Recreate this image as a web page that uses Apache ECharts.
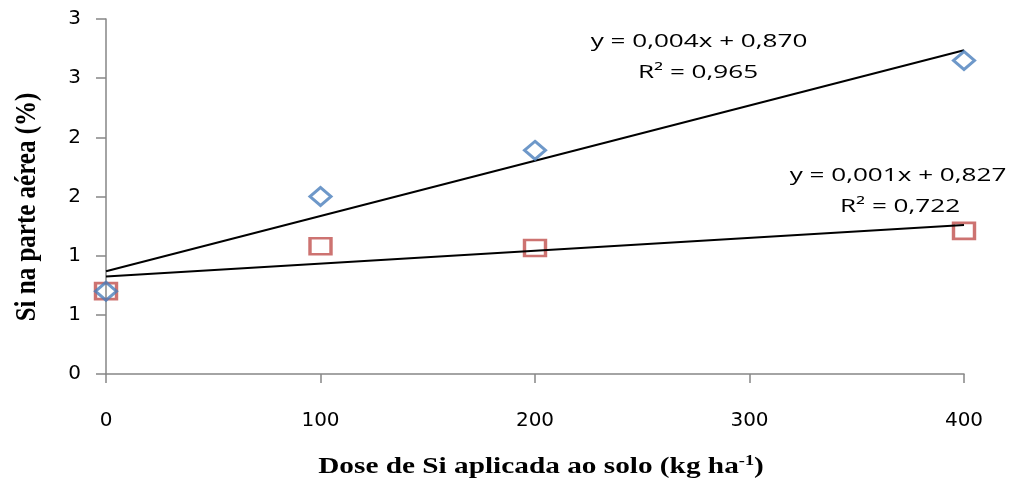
<!DOCTYPE html>
<html>
<head>
<meta charset="utf-8">
<script src="https://cdn.jsdelivr.net/npm/echarts@6/dist/echarts.min.js"></script>
<style>
  html, body { margin: 0; padding: 0; background: #fff; }
  #chart { width: 1011px; height: 486px; }
</style>
</head>
<body>
<div id="chart"></div>
<script>
// Si dose applied to soil (kg/ha)
const doses = [0, 100, 200, 400];
// Si content in shoots (%), two treatments
const siSeriesA = [0.70, 1.50, 1.89, 2.65];
const siSeriesB = [0.70, 1.08, 1.065, 1.21];
// y tick labels as printed (0.5 steps shown with no decimals)
const yTickLabels = ['0', '1', '1', '2', '2', '3', '3'];
const xTickLabels = ['0', '100', '200', '300', '400'];
// trend-line equations
const eqA = ['y = 0,004x + 0,870', 'R² = 0,965'];
const eqB = ['y = 0,001x + 0,827', 'R² = 0,722'];
// axis titles
const xTitle = 'Dose de Si aplicada ao solo (kg ha{sup|-1})';
const yTitle = 'Si na parte aérea (%)';

// least-squares fit through the points, evaluated at both ends of the dose range
function fitLine(xs, ys) {
  const n = xs.length;
  const mx = xs.reduce((a, b) => a + b, 0) / n;
  const my = ys.reduce((a, b) => a + b, 0) / n;
  let sxy = 0, sxx = 0;
  for (let i = 0; i < n; i++) {
    sxy += (xs[i] - mx) * (ys[i] - my);
    sxx += (xs[i] - mx) * (xs[i] - mx);
  }
  const b = sxy / sxx, a = my - b * mx;
  const x0 = Math.min(...xs), x1 = Math.max(...xs);
  return [[x0, a + b * x0], [x1, a + b * x1]];
}

const axisGray = '#868686';
const eqFont = { fontFamily: 'Open Sans', fontSize: 18, fill: '#000', align: 'center', verticalAlign: 'middle' };
const titleFont = { fontFamily: 'Liberation Serif', fontWeight: 'bold', fontSize: 24, fill: '#000', align: 'center', verticalAlign: 'middle' };

function eqText(text, x, y) {
  return { type: 'text', x: x, y: y, scaleX: 1.45, style: Object.assign({ text: text }, eqFont) };
}

const chart = echarts.init(document.getElementById('chart'), null, { renderer: 'canvas' });

chart.setOption({
  backgroundColor: '#fff',
  animation: false,
  grid: { left: 106, right: 47, top: 19, bottom: 112, containLabel: false },
  xAxis: {
    type: 'value', min: 0, max: 400, interval: 100,
    axisLine: { show: true, lineStyle: { color: axisGray, width: 1.5 } },
    axisTick: { show: true, inside: false, length: 9, lineStyle: { color: axisGray, width: 1.5 } },
    splitLine: { show: false },
    axisLabel: {
      margin: 37, color: '#000', fontFamily: 'DejaVu Sans', fontSize: 20,
      formatter: (v) => xTickLabels[Math.round(v / 100)]
    }
  },
  yAxis: {
    type: 'value', min: 0, max: 3, interval: 0.5,
    axisLine: { show: true, lineStyle: { color: axisGray, width: 1.5 } },
    axisTick: { show: true, inside: false, length: 10, lineStyle: { color: axisGray, width: 1.5 } },
    splitLine: { show: false },
    axisLabel: {
      margin: 25, color: '#000', fontFamily: 'DejaVu Sans', fontSize: 20,
      formatter: (v) => yTickLabels[Math.round(v / 0.5)]
    }
  },
  series: [
    {
      type: 'line', data: fitLine(doses, siSeriesA), symbol: 'none',
      lineStyle: { color: '#000', width: 2 }, z: 2
    },
    {
      type: 'line', data: fitLine(doses, siSeriesB), symbol: 'none',
      lineStyle: { color: '#000', width: 2 }, z: 2
    },
    {
      type: 'scatter', data: doses.map((d, i) => [d, siSeriesB[i]]),
      symbol: 'rect', symbolSize: [21, 16],
      itemStyle: { color: 'rgba(0,0,0,0)', borderColor: '#C0504D', borderWidth: 3 }, z: 1
    },
    {
      type: 'scatter', data: doses.map((d, i) => [d, siSeriesA[i]]),
      symbol: 'diamond', symbolSize: [21, 18],
      itemStyle: { color: 'rgba(0,0,0,0)', borderColor: '#4A7EBB', borderWidth: 3 }, z: 3
    }
  ],
  graphic: [
    eqText(eqA[0], 699, 42),
    eqText(eqA[1], 698, 73),
    eqText(eqB[0], 898, 176),
    eqText(eqB[1], 900, 207),
    // x-axis title with superscript unit
    {
      type: 'text', x: 541, y: 467, scaleX: 1.22,
      style: Object.assign({
        text: xTitle,
        rich: {
          sup: { fontFamily: 'Liberation Serif', fontWeight: 'bold', fontSize: 15, verticalAlign: 'top', padding: [0, 0, 12, 0] }
        }
      }, titleFont)
    },
    // y-axis title, rotated
    {
      type: 'text', x: 27, y: 207, rotation: Math.PI / 2, scaleY: 1.2,
      style: Object.assign({ text: yTitle }, titleFont, { fontSize: 25 })
    }
  ]
});
</script>
</body>
</html>
